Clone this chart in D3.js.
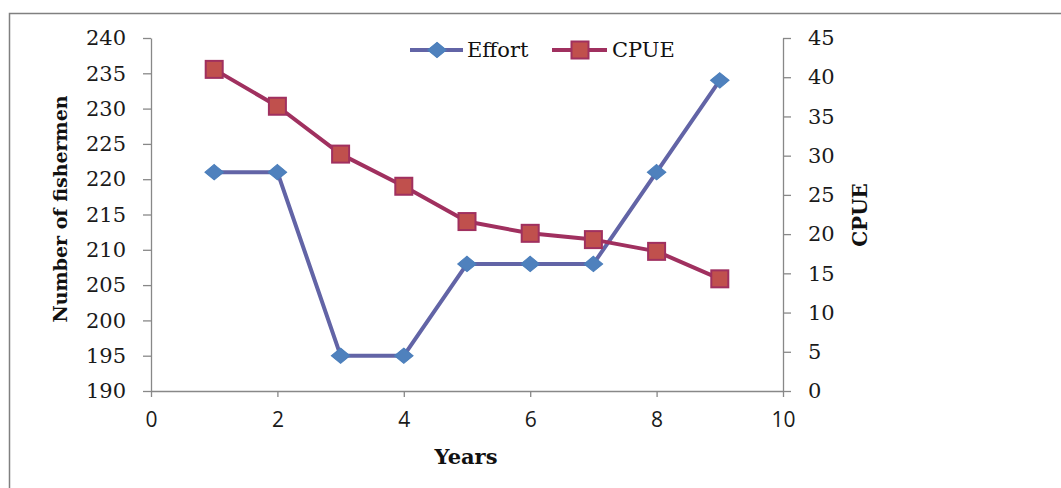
<!DOCTYPE html>
<html>
<head>
<meta charset="utf-8">
<script src="https://cdn.jsdelivr.net/npm/d3@7"></script>
<style>
  html, body { margin: 0; padding: 0; background: #fff; }
  svg { display: block; }
</style>
</head>
<body>
<svg id="chart" width="1061" height="488"></svg>
<script>
// Fishing effort and catch per unit effort by year
const years  = [1, 2, 3, 4, 5, 6, 7, 8, 9];
const effort = [221, 221, 195, 195, 208, 208, 208, 221, 234];
const cpue   = [41.0, 36.3, 30.2, 26.1, 21.6, 20.1, 19.3, 17.8, 14.3];

const xTicks = [0, 2, 4, 6, 8, 10];
const leftTicks = d3.range(190, 241, 5);
const rightTicks = d3.range(0, 46, 5);

const svg = d3.select("#chart");
const W = 1061, H = 488;
const plot = { left: 151, right: 783, top: 38, bottom: 391 };

const serif = "'DejaVu Serif', Cambria, serif";
const sans = "'Open Sans', 'DejaVu Sans', sans-serif";
const axisGrey = "#888888";

// outer frame
svg.append("rect")
  .attr("x", 9.5).attr("y", 13.5)
  .attr("width", W).attr("height", H)
  .attr("fill", "#fff").attr("stroke", "#808080").attr("stroke-width", 1.5);

const x = d3.scaleLinear().domain([0, 10]).range([plot.left, plot.right]);
const yL = d3.scaleLinear().domain([190, 240]).range([plot.bottom, plot.top]);
const yR = d3.scaleLinear().domain([0, 45]).range([plot.bottom, plot.top]);

function styleAxis(g, font, size) {
  g.select(".domain").attr("stroke", axisGrey).attr("stroke-width", 1.3);
  g.selectAll(".tick line").attr("stroke", axisGrey).attr("stroke-width", 1.3);
  g.selectAll(".tick text").attr("fill", "#1a1a1a")
    .style("font-family", font).style("font-size", size + "px");
}

// x axis
const gx = svg.append("g").attr("transform", `translate(0,${plot.bottom})`)
  .call(d3.axisBottom(x).tickValues(xTicks).tickSize(6).tickSizeOuter(0).tickPadding(15));
styleAxis(gx, sans, 21);

// left axis
const gl = svg.append("g").attr("transform", `translate(${plot.left},0)`)
  .call(d3.axisLeft(yL).tickValues(leftTicks).tickSize(8).tickSizeOuter(0).tickPadding(17));
styleAxis(gl, serif, 21);

// right axis
const gr = svg.append("g").attr("transform", `translate(${plot.right},0)`)
  .call(d3.axisRight(yR).tickValues(rightTicks).tickSize(8).tickSizeOuter(0).tickPadding(17));
styleAxis(gr, serif, 21);

// axis titles
svg.append("text")
  .attr("transform", `translate(67,209) rotate(-90)`)
  .attr("text-anchor", "middle")
  .style("font-family", serif).style("font-weight", "bold").style("font-size", "19px")
  .attr("fill", "#111").text("Number of fishermen");

svg.append("text")
  .attr("transform", `translate(867,215) rotate(-90)`)
  .attr("text-anchor", "middle")
  .style("font-family", serif).style("font-weight", "bold").style("font-size", "20px")
  .attr("fill", "#111").text("CPUE");

svg.append("text")
  .attr("x", 466).attr("y", 464)
  .attr("text-anchor", "middle")
  .style("font-family", serif).style("font-weight", "bold").style("font-size", "21px")
  .attr("fill", "#111").text("Years");

// series
const effortLine = "#6264A6", effortFill = "#4F81BD";
const cpueLine = "#A0305F", cpueFill = "#C0504D";

const lineL = d3.line().x((d, i) => x(years[i])).y(d => yL(d));
const lineR = d3.line().x((d, i) => x(years[i])).y(d => yR(d));

svg.append("path").datum(effort).attr("d", lineL)
  .attr("fill", "none").attr("stroke", effortLine).attr("stroke-width", 4)
  .attr("stroke-linejoin", "round");
svg.append("path").datum(cpue).attr("d", lineR)
  .attr("fill", "none").attr("stroke", cpueLine).attr("stroke-width", 4)
  .attr("stroke-linejoin", "round");

// diamond markers, slightly wider than tall
const diamond = d3.symbol().type(d3.symbolDiamond2).size(165);
const dScale = "scale(1.15,0.95)";
svg.append("g").selectAll("path").data(effort).join("path")
  .attr("d", diamond)
  .attr("transform", (d, i) => `translate(${x(years[i])},${yL(d)}) ${dScale}`)
  .attr("fill", effortFill).attr("stroke", "#4A7EBB").attr("stroke-width", 1);

const sq = 17;
svg.append("g").selectAll("rect").data(cpue).join("rect")
  .attr("x", (d, i) => x(years[i]) - sq / 2)
  .attr("y", d => yR(d) - sq / 2)
  .attr("width", sq).attr("height", sq)
  .attr("fill", cpueFill).attr("stroke", cpueLine).attr("stroke-width", 2);

// legend
const leg = svg.append("g");
const ly = 50;
leg.append("line").attr("x1", 410).attr("x2", 463).attr("y1", ly).attr("y2", ly)
  .attr("stroke", effortLine).attr("stroke-width", 4);
leg.append("path").attr("d", diamond)
  .attr("transform", `translate(437,${ly}) ${dScale}`)
  .attr("fill", effortFill).attr("stroke", "#4A7EBB").attr("stroke-width", 1);
leg.append("text").attr("x", 467).attr("y", ly + 7)
  .style("font-family", serif).style("font-size", "21px").attr("fill", "#111").text("Effort");

leg.append("line").attr("x1", 552).attr("x2", 607).attr("y1", ly).attr("y2", ly)
  .attr("stroke", cpueLine).attr("stroke-width", 4);
leg.append("rect").attr("x", 580 - sq / 2).attr("y", ly - sq / 2)
  .attr("width", sq).attr("height", sq)
  .attr("fill", cpueFill).attr("stroke", cpueLine).attr("stroke-width", 2);
leg.append("text").attr("x", 612).attr("y", ly + 7)
  .style("font-family", serif).style("font-size", "21px").attr("fill", "#111").text("CPUE");
</script>
</body>
</html>
